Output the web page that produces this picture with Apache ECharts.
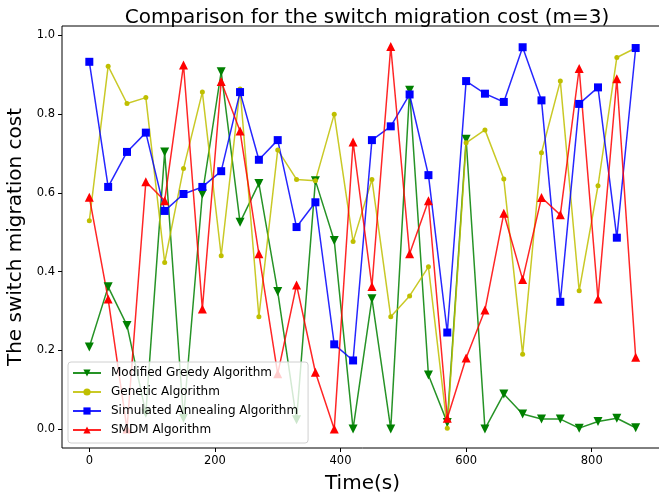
<!DOCTYPE html>
<html>
<head>
<meta charset="utf-8">
<script src="https://cdn.jsdelivr.net/npm/echarts@6/dist/echarts.min.js"></script>
<style>
html,body{margin:0;padding:0;overflow:hidden;background:#fff;}
#chart{width:665px;height:500px;}
</style>
</head>
<body>
<div id="chart"></div>
<script>
const times = [0,30,60,90,120,150,180,210,240,270,300,330,360,390,420,450,480,510,540,570,600,630,660,690,720,750,780,810,840,870];
const greedy = [0.208,0.361,0.263,0.040,0.704,0.027,0.597,0.908,0.525,0.624,0.349,0.023,0.631,0.479,0.0,0.331,0.0,0.861,0.137,0.016,0.736,0.0,0.089,0.038,0.025,0.025,0.002,0.019,0.027,0.003];
const genetic = [0.529,0.922,0.827,0.842,0.423,0.662,0.856,0.440,0.864,0.285,0.709,0.634,0.631,0.800,0.476,0.634,0.285,0.338,0.412,0.002,0.727,0.760,0.635,0.190,0.702,0.884,0.351,0.618,0.944,0.968];
const annealing = [0.933,0.615,0.704,0.753,0.554,0.597,0.615,0.655,0.856,0.684,0.734,0.513,0.576,0.215,0.174,0.734,0.769,0.850,0.645,0.245,0.884,0.852,0.831,0.970,0.835,0.323,0.826,0.868,0.486,0.968];
const smdm = [0.589,0.330,0.0,0.628,0.580,0.925,0.305,0.883,0.757,0.445,0.140,0.366,0.144,0.0,0.729,0.362,0.972,0.445,0.580,0.027,0.180,0.302,0.548,0.380,0.588,0.544,0.916,0.330,0.890,0.182];
const xTicks = [0,200,400,600,800];
const yTicks = [0,0.2,0.4,0.6,0.8,1.0];
const seriesNames = ['Modified Greedy Algorithm','Genetic Algorithm','Simulated Annealing Algorithm','SMDM Algorithm'];

const FONT = 'DejaVu Sans';
function pairs(arr){ return times.map((t,i)=>[t, arr[i]]); }
function mk(name, data, color, symbol, size, rotate){
  return {
    name: name, type: 'line', data: pairs(data),
    symbol: symbol, symbolSize: size, symbolRotate: rotate || 0,
    showSymbol: true, animation: false,
    itemStyle: {color: color, opacity: 1},
    lineStyle: {color: color, width: 1.5, opacity: 0.85},
    emphasis: {disabled: true}
  };
}
const chart = echarts.init(document.getElementById('chart'), null, {renderer: 'canvas'});
chart.setOption({
  animation: false,
  backgroundColor: '#fff',
  title: {
    text: 'Comparison for the switch migration cost (m=3)',
    left: 362, top: 3, textAlign: 'center',
    textStyle: {fontFamily: FONT, fontSize: 20, fontWeight: 'normal', color: '#000'}
  },
  grid: {left: 62, right: 2, top: 26, bottom: 52, show: true, borderColor: '#000', borderWidth: 1,
         backgroundColor: 'transparent', containLabel: false, outerBoundsMode: 'none'},
  legend: {
    orient: 'vertical', left: 68, top: 362,
    itemWidth: 28, itemHeight: 9, itemGap: 5,
    padding: [4, 10, 6, 4],
    backgroundColor: 'rgba(255,255,255,0.8)',
    borderColor: '#d0d0d0', borderWidth: 1, borderRadius: 3,
    textStyle: {fontFamily: FONT, fontSize: 12, color: '#000', lineHeight: 14, padding: [0,0,0,5]},
    data: seriesNames
  },
  xAxis: {
    type: 'value', min: -43.5, max: 913.5,
    name: 'Time(s)', nameLocation: 'middle', nameGap: 26,
    nameTextStyle: {fontFamily: FONT, fontSize: 20, color: '#000'},
    axisLine: {show: false, onZero: false},
    axisTick: {show: true, inside: false, length: 4, lineStyle: {color: '#000'}, customValues: xTicks},
    axisLabel: {fontFamily: FONT, fontSize: 11.5, color: '#000', margin: 7, customValues: xTicks, formatter: v => String(v)},
    splitLine: {show: false}
  },
  yAxis: {
    type: 'value', min: -0.0485, max: 1.024,
    name: 'The switch migration cost', nameLocation: 'middle', nameGap: 34, nameRotate: 90,
    nameTextStyle: {fontFamily: FONT, fontSize: 20, color: '#000'},
    axisLine: {show: false, onZero: false},
    axisTick: {show: true, inside: false, length: 4, lineStyle: {color: '#000'}, customValues: yTicks},
    axisLabel: {fontFamily: FONT, fontSize: 11.5, color: '#000', margin: 7, customValues: yTicks, formatter: v => v.toFixed(1)},
    splitLine: {show: false}
  },
  series: [
    mk(seriesNames[0], greedy, '#008000', 'triangle', 9, 180),
    mk(seriesNames[1], genetic, '#bfbf00', 'circle', 5),
    mk(seriesNames[2], annealing, '#0000ff', 'rect', 8),
    mk(seriesNames[3], smdm, '#ff0000', 'triangle', 9)
  ]
});
</script>
</body>
</html>
